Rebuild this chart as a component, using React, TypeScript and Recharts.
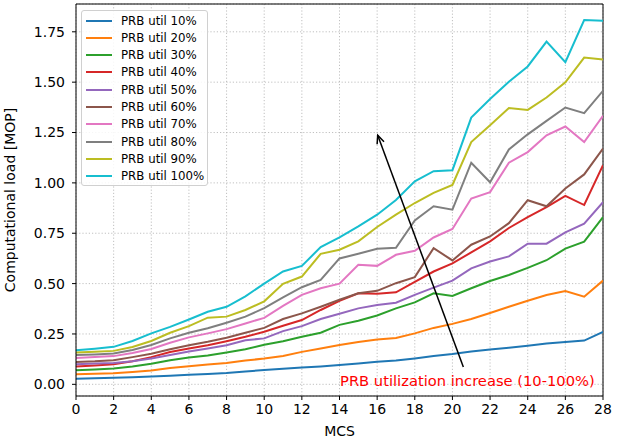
import React from "react";
import {
  CartesianGrid,
  Line,
  LineChart,
  ReferenceDot,
  ReferenceLine,
  XAxis,
  YAxis,
} from "recharts";

const mcs = [0, 1, 2, 3, 4, 5, 6, 7, 8, 9, 10, 11, 12, 13, 14, 15, 16, 17, 18, 19, 20, 21, 22, 23, 24, 25, 26, 27, 28];

const util10 = [0.028, 0.030, 0.032, 0.035, 0.039, 0.043, 0.047, 0.051, 0.056, 0.064, 0.071, 0.077, 0.083, 0.089, 0.096, 0.103, 0.112, 0.118, 0.128, 0.140, 0.150, 0.163, 0.173, 0.182, 0.192, 0.203, 0.210, 0.217, 0.260];
const util20 = [0.050, 0.052, 0.055, 0.061, 0.069, 0.081, 0.090, 0.098, 0.106, 0.118, 0.128, 0.141, 0.161, 0.178, 0.195, 0.210, 0.222, 0.230, 0.253, 0.280, 0.300, 0.324, 0.354, 0.385, 0.415, 0.443, 0.463, 0.435, 0.515];
const util30 = [0.070, 0.073, 0.078, 0.088, 0.102, 0.120, 0.133, 0.143, 0.158, 0.174, 0.196, 0.214, 0.236, 0.256, 0.295, 0.316, 0.342, 0.377, 0.407, 0.452, 0.439, 0.477, 0.513, 0.543, 0.578, 0.616, 0.674, 0.708, 0.830];
const util40 = [0.088, 0.093, 0.100, 0.115, 0.135, 0.160, 0.178, 0.194, 0.214, 0.236, 0.261, 0.291, 0.319, 0.369, 0.414, 0.452, 0.449, 0.457, 0.508, 0.560, 0.600, 0.655, 0.710, 0.776, 0.830, 0.880, 0.935, 0.890, 1.088];
const util50 = [0.100, 0.103, 0.106, 0.115, 0.128, 0.146, 0.163, 0.178, 0.194, 0.219, 0.228, 0.264, 0.289, 0.324, 0.350, 0.377, 0.394, 0.405, 0.444, 0.480, 0.515, 0.576, 0.610, 0.635, 0.698, 0.698, 0.754, 0.798, 0.904];
const util60 = [0.111, 0.114, 0.120, 0.135, 0.152, 0.174, 0.194, 0.211, 0.231, 0.256, 0.280, 0.324, 0.352, 0.385, 0.420, 0.452, 0.464, 0.502, 0.532, 0.676, 0.615, 0.693, 0.734, 0.800, 0.914, 0.884, 0.972, 1.042, 1.170];
const util70 = [0.131, 0.135, 0.140, 0.155, 0.175, 0.206, 0.233, 0.253, 0.274, 0.302, 0.330, 0.389, 0.444, 0.477, 0.500, 0.593, 0.588, 0.643, 0.663, 0.729, 0.771, 0.922, 0.954, 1.100, 1.153, 1.236, 1.280, 1.203, 1.333];
const util80 = [0.145, 0.148, 0.153, 0.170, 0.195, 0.228, 0.256, 0.278, 0.306, 0.336, 0.378, 0.432, 0.482, 0.518, 0.625, 0.648, 0.673, 0.678, 0.814, 0.884, 0.867, 1.100, 1.003, 1.166, 1.241, 1.308, 1.374, 1.346, 1.457];
const util90 = [0.158, 0.162, 0.166, 0.185, 0.215, 0.256, 0.289, 0.331, 0.336, 0.369, 0.412, 0.499, 0.535, 0.648, 0.668, 0.710, 0.781, 0.842, 0.900, 0.950, 0.990, 1.203, 1.286, 1.372, 1.362, 1.424, 1.499, 1.622, 1.612];
const util100 = [0.169, 0.177, 0.186, 0.215, 0.253, 0.285, 0.322, 0.360, 0.385, 0.437, 0.500, 0.560, 0.588, 0.681, 0.730, 0.784, 0.842, 0.915, 1.008, 1.058, 1.063, 1.324, 1.416, 1.502, 1.578, 1.701, 1.599, 1.808, 1.805];

const seriesNames = ["PRB util 10%", "PRB util 20%", "PRB util 30%", "PRB util 40%", "PRB util 50%", "PRB util 60%", "PRB util 70%", "PRB util 80%", "PRB util 90%", "PRB util 100%"];
const seriesValues = [util10, util20, util30, util40, util50, util60, util70, util80, util90, util100];
const colors = ["#1f77b4", "#ff7f0e", "#2ca02c", "#d62728", "#9467bd", "#8c564b", "#e377c2", "#7f7f7f", "#bcbd22", "#17becf"];

const xTicks = [0, 2, 4, 6, 8, 10, 12, 14, 16, 18, 20, 22, 24, 26, 28];
const yTicks = [0, 0.25, 0.5, 0.75, 1.0, 1.25, 1.5, 1.75];
const yMin = -0.058;
const yMax = 1.888;

// arrow runs from the annotation text up to this point
const arrowFrom = { x: 20.58, y: 0.086 };
const arrowTo = { x: 16.03, y: 1.236 };
const noteAt = { x: 14.03, y: 0.02 };
const noteText = "PRB utilization increase (10-100%)";

const data = mcs.map((m, i) => {
  const row: Record<string, number> = { mcs: m };
  seriesNames.forEach((name, s) => {
    row[name] = seriesValues[s][i];
  });
  return row;
});

const font = "'DejaVu Sans', sans-serif";
const tickStyle = { fill: "#000", fontSize: 14, fontFamily: font };

function Arrow(props: any) {
  const { x1, y1, x2, y2 } = props;
  const ang = Math.atan2(y2 - y1, x2 - x1);
  const len = 9;
  const spread = 0.42;
  const ax = x2 - len * Math.cos(ang - spread);
  const ay = y2 - len * Math.sin(ang - spread);
  const bx = x2 - len * Math.cos(ang + spread);
  const by = y2 - len * Math.sin(ang + spread);
  return (
    <g>
      <line x1={x1} y1={y1} x2={x2} y2={y2} stroke="#000" strokeWidth={1.5} />
      <polyline points={`${ax},${ay} ${x2},${y2} ${bx},${by}`} fill="none" stroke="#000" strokeWidth={1.5} />
    </g>
  );
}

function LegendBox() {
  return (
    <div
      style={{
        position: "absolute",
        left: 81,
        top: 10,
        width: 127,
        height: 176,
        border: "1px solid #d0d0d0",
        borderRadius: 3,
        background: "rgba(255,255,255,0.85)",
        fontFamily: font,
        fontSize: 11.8,
        boxSizing: "border-box",
      }}
    >
      {seriesNames.map((name, i) => (
        <div
          key={name}
          style={{ position: "absolute", left: 4, top: 1 + i * 17.3, height: 17, display: "flex", alignItems: "center" }}
        >
          <span style={{ display: "inline-block", width: 26, height: 2, background: colors[i], marginRight: 9 }} />
          <span style={{ color: "#000", whiteSpace: "nowrap" }}>{name}</span>
        </div>
      ))}
    </div>
  );
}

export default function App() {
  return (
    <div style={{ position: "absolute", left: 0, top: 0, width: 620, height: 439, background: "#fff" }}>
      <LineChart width={620} height={439} data={data} margin={{ top: 4, right: 17, left: 0, bottom: 0 }}>
        <CartesianGrid stroke="#b0b0b0" strokeDasharray="1.2 2" strokeWidth={0.8} />
        <XAxis
          dataKey="mcs"
          type="number"
          domain={[0, 28]}
          ticks={xTicks}
          allowDataOverflow
          height={43}
          tickSize={4}
          tickMargin={4}
          tick={tickStyle}
          tickLine={{ stroke: "#000" }}
          axisLine={{ stroke: "#000" }}
          label={{ value: "MCS", position: "insideBottom", offset: 3, fill: "#000", fontSize: 14, fontFamily: font }}
        />
        <YAxis
          type="number"
          domain={[yMin, yMax]}
          ticks={yTicks}
          allowDataOverflow
          width={76}
          tickSize={4}
          tickMargin={7}
          tick={tickStyle}
          tickLine={{ stroke: "#000" }}
          axisLine={{ stroke: "#000" }}
          tickFormatter={(v) => Number(v).toFixed(2)}
          label={{
            value: "Computational load [MOP]",
            angle: -90,
            position: "insideLeft",
            offset: 10,
            style: { textAnchor: "middle" },
            fill: "#000",
            fontSize: 14,
            fontFamily: font,
          }}
        />
        <ReferenceLine x={28} stroke="#000" />
        <ReferenceLine y={yMax} stroke="#000" />
        {seriesNames.map((name, i) => (
          <Line
            key={name}
            type="linear"
            dataKey={name}
            stroke={colors[i]}
            strokeWidth={2}
            dot={false}
            isAnimationActive={false}
          />
        ))}
        <ReferenceLine
          segment={[arrowFrom, arrowTo]}
          shape={Arrow}
          ifOverflow="visible"
        />
        <ReferenceDot
          x={noteAt.x}
          y={noteAt.y}
          r={0}
          fill="none"
          stroke="none"
          ifOverflow="visible"
          label={{ value: noteText, position: "right", offset: 0, fill: "#ff0000", fontSize: 14.7, fontFamily: font }}
        />
      </LineChart>
      <LegendBox />
    </div>
  );
}
